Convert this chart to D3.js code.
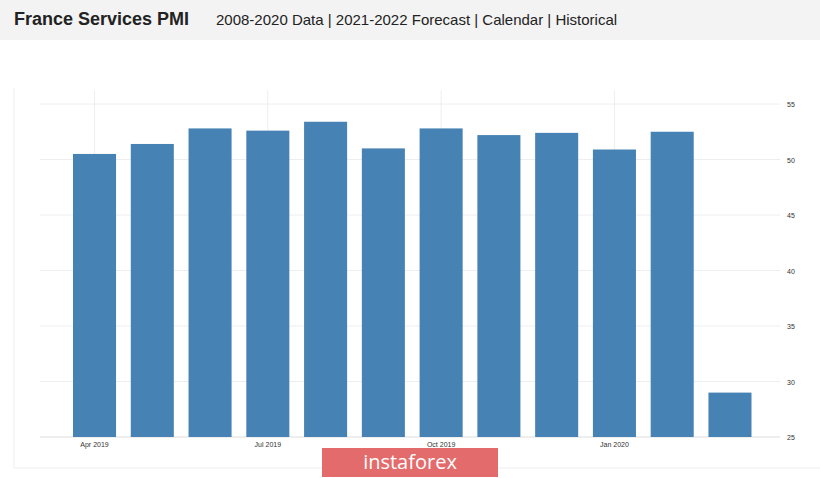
<!DOCTYPE html><html><head><meta charset="utf-8">
<script src="https://cdn.jsdelivr.net/npm/d3@7"></script>
<style>body{margin:0;background:#fff;font-family:Arial,"Liberation Sans",sans-serif}</style></head><body>
<svg id="c" width="820" height="478"></svg>
<script>
const months=["Apr 2019","May 2019","Jun 2019","Jul 2019","Aug 2019","Sep 2019","Oct 2019","Nov 2019","Dec 2019","Jan 2020","Feb 2020","Mar 2020"];
const values=[50.5,51.4,52.8,52.6,53.4,51.0,52.8,52.2,52.4,50.9,52.5,29.0];
const yTicks=[25,30,35,40,45,50,55];
const xTickLabels={"Apr 2019":"Apr 2019","Jul 2019":"Jul 2019","Oct 2019":"Oct 2019","Jan 2020":"Jan 2020"};
const svg=d3.select("#c");
svg.append("rect").attr("x",0).attr("y",0).attr("width",820).attr("height",40).attr("fill","#f3f3f3");
svg.append("text").attr("x",14).attr("y",25).attr("font-size",18).attr("font-weight","bold").attr("fill","#222").text("France Services PMI");
svg.append("text").attr("x",216).attr("y",25).attr("font-size",15).attr("fill","#222").text("2008-2020 Data | 2021-2022 Forecast | Calendar | Historical");
svg.append("path").attr("d","M14,88V468H820").attr("fill","none").attr("stroke","#eee");
const x=d3.scaleBand().domain(months).range([65.5,759]).paddingInner(0.255).paddingOuter(0.13);
const y=d3.scaleLinear().domain([25,55]).range([437,104]);
const g=svg.append("g");
yTicks.forEach(t=>{g.append("line").attr("x1",40).attr("x2",780).attr("y1",y(t)).attr("y2",y(t)).attr("stroke",t===25?"#ddd":"#eee");
 g.append("text").attr("x",787).attr("y",y(t)+3).attr("font-size",7).attr("fill","#333").text(t);});
Object.keys(xTickLabels).forEach(m=>{const cx=x(m)+x.bandwidth()/2;
 g.append("line").attr("x1",cx).attr("x2",cx).attr("y1",90).attr("y2",437).attr("stroke","#eee");
 g.append("text").attr("x",cx).attr("y",447).attr("text-anchor","middle").attr("font-size",7).attr("fill","#333").text(xTickLabels[m]);});
g.selectAll("rect.b").data(values).enter().append("rect").attr("class","b")
 .attr("x",(d,i)=>x(months[i])).attr("width",x.bandwidth()).attr("y",d=>y(d)).attr("height",d=>y(25)-y(d)).attr("fill","#4682b4");
svg.append("rect").attr("x",322).attr("y",448).attr("width",176).attr("height",29).attr("fill","#e46b6b");
svg.append("text").attr("x",410).attr("y",469).attr("text-anchor","middle").attr("font-size",20).attr("fill","#fff").attr("font-family","'Open Sans',sans-serif").text("instaforex");
</script></body></html>
